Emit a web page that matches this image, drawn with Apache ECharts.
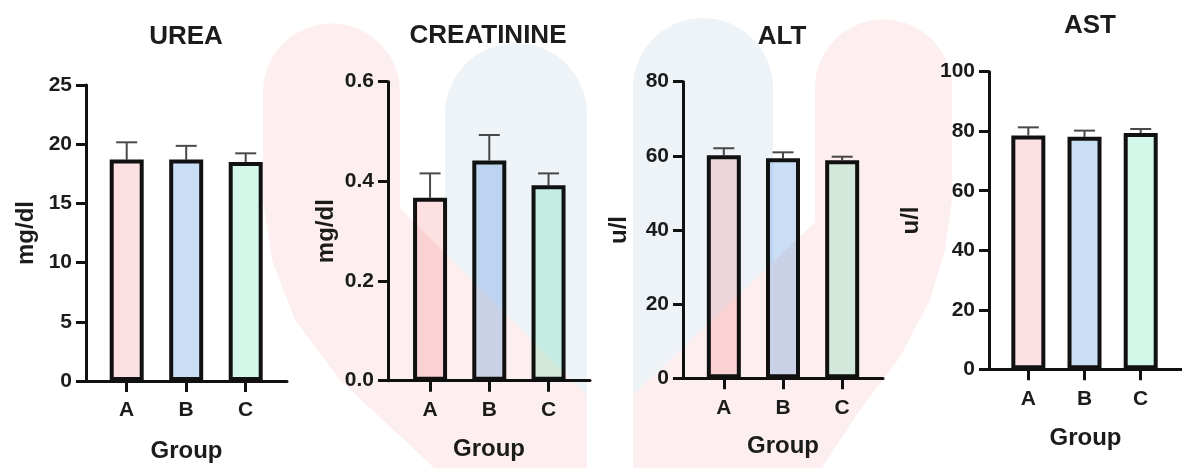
<!DOCTYPE html>
<html>
<head>
<meta charset="utf-8">
<script src="https://cdn.jsdelivr.net/npm/echarts@6/dist/echarts.min.js"></script>
<style>
html,body{margin:0;padding:0;background:#fff;}
#chart{width:1182px;height:468px;}
</style>
</head>
<body>
<div id="chart"></div>
<script>
// ---- data ----
const categories = ['A', 'B', 'C'];
const panelTitles = ['UREA', 'CREATININE', 'ALT', 'AST'];
const yNames = ['mg/dl', 'mg/dl', 'u/l', 'u/l'];
const xName = 'Group';

const ureaMean = [18.7, 18.7, 18.5];
const ureaErr = [1.46, 1.16, 0.73];
const creaMean = [0.367, 0.442, 0.392];
const creaErr = [0.049, 0.051, 0.024];
const altMean = [60.15, 59.35, 58.8];
const altErr = [1.9, 1.6, 0.97];
const astMean = [78.6, 78.1, 79.4];
const astErr = [2.7, 2.1, 1.35];

const yMax = [25, 0.6, 80, 100];
const yStep = [5, 0.2, 20, 20];
const yDecimals = [0, 1, 0, 0];

const barColors = ['#fde0e2', '#cadff6', '#d3f8e9'];

// ---- layout ----
const F = 'Liberation Sans, Arial, Helvetica, sans-serif';
const TXT = '#1c1c1c';
const grids = [
  {left: 86, top: 85, width: 201, height: 303, min: -0.684, max: 2.694, yGap: 48, xGap: 58, tx: 186, ty: 24},
  {left: 388, top: 81.7, width: 202, height: 299, min: -0.71, max: 2.70, yGap: 50, xGap: 57, tx: 488, ty: 23},
  {left: 683, top: 81.7, width: 200, height: 296.6, min: -0.69, max: 2.69, yGap: 52, xGap: 56, tx: 782, ty: 24},
  {left: 989, top: 71.7, width: 202, height: 297.6, min: -0.70, max: 2.735, yGap: 66, xGap: 57, tx: 1090, ty: 13}
];
const means = [ureaMean, creaMean, altMean, astMean];
const errs = [ureaErr, creaErr, altErr, astErr];

const option = {
  animation: false,
  backgroundColor: '#ffffff',
  title: grids.map((g, i) => ({
    text: panelTitles[i], left: g.tx, top: g.ty, textAlign: 'center', padding: 0,
    textStyle: {fontFamily: F, fontWeight: 'bold', fontSize: 26, color: TXT}
  })),
  grid: grids.map(g => ({left: g.left, top: g.top, width: g.width, height: g.height, containLabel: false})),
  xAxis: grids.map((g, i) => ({
    type: 'value', gridIndex: i, min: g.min, max: g.max,
    name: xName, nameLocation: 'middle', nameGap: g.xGap,
    nameTextStyle: {fontFamily: F, fontWeight: 'bold', fontSize: 24, color: TXT},
    axisLine: {show: true, onZero: false, lineStyle: {color: '#111', width: 3}},
    axisTick: {show: true, customValues: [0, 1, 2], length: 11, lineStyle: {color: '#111', width: 3}},
    axisLabel: {show: true, customValues: [0, 1, 2], margin: 19,
      formatter: v => categories[Math.round(v)] || '',
      fontFamily: F, fontWeight: 'bold', fontSize: 21, color: TXT},
    splitLine: {show: false}
  })),
  yAxis: grids.map((g, i) => ({
    type: 'value', gridIndex: i, min: 0, max: yMax[i], interval: yStep[i],
    name: yNames[i], nameLocation: 'middle', nameGap: g.yGap,
    nameTextStyle: {fontFamily: F, fontWeight: 'bold', fontSize: 24, color: TXT},
    axisLine: {show: true, onZero: false, lineStyle: {color: '#111', width: 3}},
    axisTick: {show: true, length: 10, lineStyle: {color: '#111', width: 3}},
    axisLabel: {margin: 14, fontFamily: F, fontWeight: 'bold', fontSize: 21, color: TXT,
      formatter: v => v.toFixed(yDecimals[i])},
    splitLine: {show: false}
  })),
  series: []
};

means.forEach((m, i) => {
  option.series.push({
    type: 'custom', xAxisIndex: i, yAxisIndex: i, z: 1,
    data: m.map((v, k) => [k, v, v + errs[i][k]]),
    renderItem: (params, api) => {
      const p0 = api.coord([api.value(0), api.value(1)]);
      const p1 = api.coord([api.value(0), api.value(2)]);
      const half = 10.5;
      return {
        type: 'group',
        children: [
          {type: 'line', shape: {x1: p0[0], y1: p0[1], x2: p1[0], y2: p1[1]}, style: {stroke: '#4a4a4a', lineWidth: 2}},
          {type: 'line', shape: {x1: p1[0] - half, y1: p1[1], x2: p1[0] + half, y2: p1[1]}, style: {stroke: '#4a4a4a', lineWidth: 2}}
        ]
      };
    }
  });
  option.series.push({
    type: 'bar', xAxisIndex: i, yAxisIndex: i, z: 2, barWidth: 34,
    data: m.map((v, k) => ({value: [k, v], itemStyle: {color: barColors[k], borderColor: '#111', borderWidth: 4}}))
  });
});

// faint background logo (decoration), multiplied over the chart
function capsule(x0, x1, cy, rest) {
  const r = (x1 - x0) / 2, cx = (x0 + x1) / 2, pts = [];
  for (let a = 180; a >= 0; a -= 6) {
    const t = a * Math.PI / 180;
    pts.push([cx + r * Math.cos(t), cy - r * Math.sin(t)]);
  }
  return pts.concat(rest);
}
const PINK = '#fdefef', BLUE = '#eef3f8';
const shapes = [
  {pts: capsule(445, 587, 114, [[587, 395], [445, 253]]), fill: BLUE},
  {pts: capsule(633, 773, 88, [[773, 262], [633, 395]]), fill: BLUE},
  {pts: capsule(263, 400, 92, [[400, 208], [587, 395], [587, 478], [445, 478], [340, 380], [295, 320], [272, 260], [263, 200]]), fill: PINK},
  {pts: capsule(815, 952, 88, [[952, 200], [945, 250], [930, 300], [900, 357], [860, 410], [815, 478], [633, 478], [633, 395], [815, 222]]), fill: PINK}
];
option.graphic = shapes.map(s => ({
  type: 'polygon', z: 100, silent: true, shape: {points: s.pts}, style: {fill: s.fill, blend: 'multiply'}
}));

const chart = echarts.init(document.getElementById('chart'), null, {renderer: 'canvas'});
chart.setOption(option);
</script>
</body>
</html>
